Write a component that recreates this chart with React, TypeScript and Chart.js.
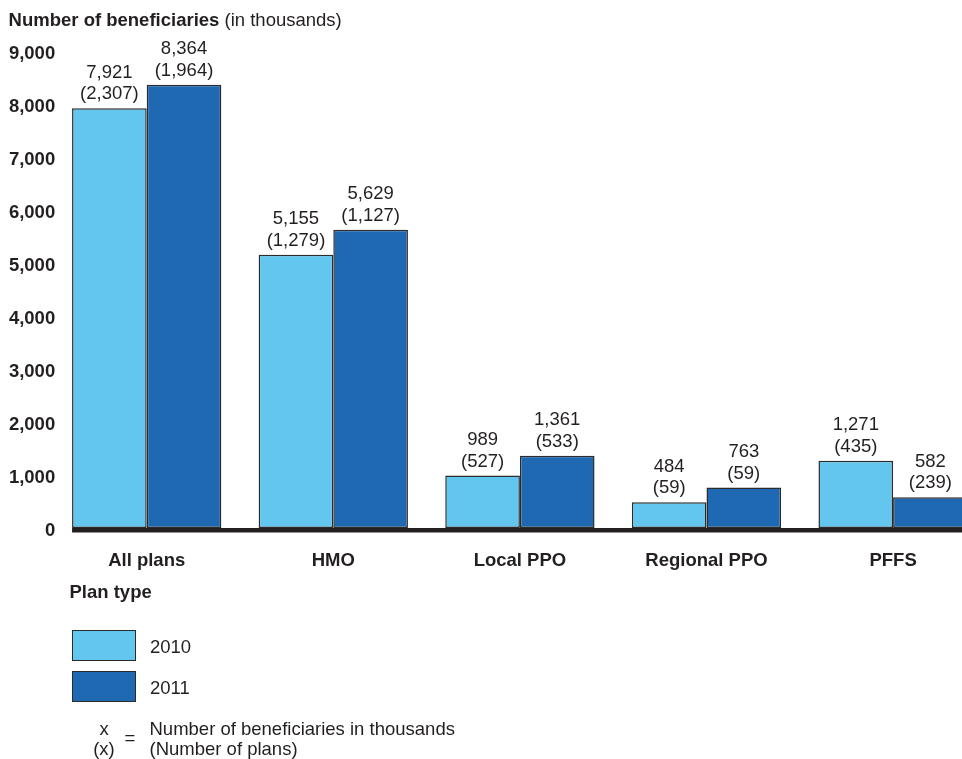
import React, { useEffect, useRef } from "react";
import { Chart, registerables } from "chart.js";
Chart.register(...registerables);

const categories = ["All plans", "HMO", "Local PPO", "Regional PPO", "PFFS"];
const seriesLabels = ["2010", "2011"];
const beneficiaries2010 = [7921, 5155, 989, 484, 1271];
const beneficiaries2011 = [8364, 5629, 1361, 763, 582];
const plans2010 = [2307, 1279, 527, 59, 435];
const plans2011 = [1964, 1127, 533, 59, 239];
const yMin = 0;
const yMax = 9000;
const yStep = 1000;

const FONT = '"Liberation Sans", Arial, Helvetica, sans-serif';
const FS = 18.5;
const TEXT = "#231f20";
const LIGHT = "#62c6ee";
const DARK = "#1f69b3";
const BORDER = "#2b2b2b";

const fmt = (n: number) => n.toLocaleString("en-US");

const labelPlugin = {
  id: "barLabels",
  afterDatasetsDraw(chart: any) {
    const ctx = chart.ctx;
    ctx.save();
    // baseline axis, starting at the first bar's left edge
    const y0 = chart.scales.y.getPixelForValue(0);
    const first = chart.getDatasetMeta(0).data[0];
    const left = first.x - first.width / 2;
    ctx.fillStyle = TEXT;
    ctx.fillRect(left, y0, chart.width - left, 4.5);
    // value labels
    ctx.font = `${FS}px ${FONT}`;
    ctx.textAlign = "center";
    ctx.textBaseline = "alphabetic";
    const plansBySeries = [plans2010, plans2011];
    chart.data.datasets.forEach((ds: any, di: number) => {
      const meta = chart.getDatasetMeta(di);
      meta.data.forEach((bar: any, i: number) => {
        ctx.fillText(fmt(ds.data[i]), bar.x, bar.y - 30.5);
        ctx.fillText(`(${fmt(plansBySeries[di][i])})`, bar.x, bar.y - 9);
      });
    });
    ctx.restore();
  },
};

export default function App() {
  const ref = useRef<HTMLCanvasElement>(null);
  useEffect(() => {
    if (!ref.current) return;
    const chart = new Chart(ref.current, {
      type: "bar",
      data: {
        labels: categories,
        datasets: [
          {
            label: seriesLabels[0],
            data: beneficiaries2010,
            backgroundColor: LIGHT,
            borderColor: BORDER,
            borderWidth: 1.5,
            borderSkipped: false,
          },
          {
            label: seriesLabels[1],
            data: beneficiaries2011,
            backgroundColor: DARK,
            borderColor: BORDER,
            borderWidth: 1.5,
            borderSkipped: false,
          },
        ],
      },
      options: {
        responsive: false,
        animation: false,
        layout: { padding: { top: 51, right: 13.6, bottom: 0, left: 0 } },
        datasets: { bar: { categoryPercentage: 0.8, barPercentage: 1.0 } },
        plugins: { legend: { display: false }, tooltip: { enabled: false } },
        scales: {
          x: {
            grid: { display: false, drawTicks: false },
            border: { display: false },
            ticks: {
              padding: 22,
              color: TEXT,
              font: { family: FONT, size: FS, weight: "bold" },
            },
            afterFit(scale: any) {
              scale.height = 231;
            },
          },
          y: {
            min: yMin,
            max: yMax,
            grid: { display: false, drawTicks: false },
            border: { display: false },
            ticks: {
              stepSize: yStep,
              mirror: true,
              crossAlign: "far",
              padding: -44.5,
              labelOffset: 2.5,
              color: TEXT,
              font: { family: FONT, size: FS, weight: "bold" },
              callback: (v: any) => fmt(Number(v)),
            },
            afterFit(scale: any) {
              scale.width = 53.4;
            },
          },
        },
      },
      plugins: [labelPlugin],
    });
    return () => chart.destroy();
  }, []);

  const txt: React.CSSProperties = {
    position: "absolute",
    fontFamily: FONT,
    fontSize: FS,
    lineHeight: "22px",
    color: TEXT,
    whiteSpace: "nowrap",
    margin: 0,
  };
  const box = (top: number, color: string): React.CSSProperties => ({
    position: "absolute",
    left: 71.7,
    top,
    width: 62,
    height: 29,
    background: color,
    border: `1.5px solid ${BORDER}`,
  });

  return (
    <div
      style={{
        position: "relative",
        width: 962,
        height: 759,
        overflow: "hidden",
      }}
    >
      <style>{"html,body{margin:0;padding:0;overflow:hidden;}"}</style>
      <canvas
        ref={ref}
        width={1000}
        height={759}
        style={{ display: "block", position: "absolute", left: 0, top: 0 }}
      />
      <div style={{ ...txt, left: 8.6, top: 9.3 }}>
        <b>Number of beneficiaries</b> (in thousands)
      </div>
      <div style={{ ...txt, left: 69.5, top: 581, fontWeight: "bold" }}>Plan type</div>
      <div style={box(630, LIGHT)} />
      <div style={box(671, DARK)} />
      <div style={{ ...txt, left: 150, top: 636 }}>{seriesLabels[0]}</div>
      <div style={{ ...txt, left: 150, top: 676.6 }}>{seriesLabels[1]}</div>
      <div style={{ ...txt, left: 84, width: 40, textAlign: "center", top: 718.3 }}>x</div>
      <div style={{ ...txt, left: 84, width: 40, textAlign: "center", top: 737.6 }}>(x)</div>
      <div style={{ ...txt, left: 120, width: 20, textAlign: "center", top: 727 }}>=</div>
      <div style={{ ...txt, left: 149.5, top: 718.3 }}>Number of beneficiaries in thousands</div>
      <div style={{ ...txt, left: 149.5, top: 737.6 }}>(Number of plans)</div>
    </div>
  );
}
